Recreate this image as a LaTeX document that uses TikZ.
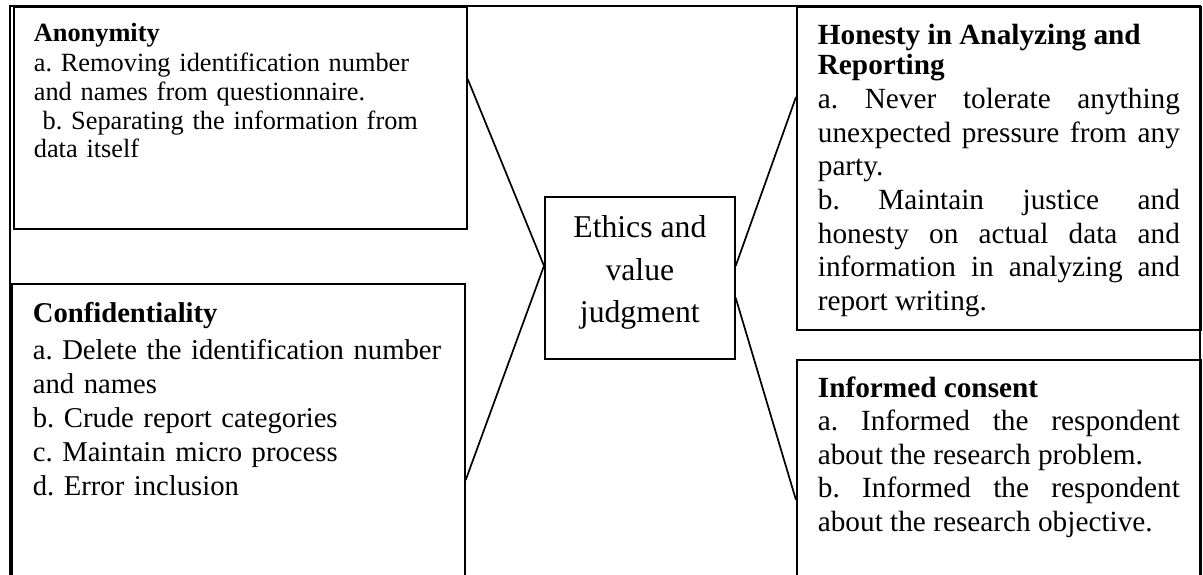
\documentclass[tikz,border=0pt]{standalone}
\usepackage{fontspec}
\setmainfont{Liberation Serif}
\usepackage{tikz}
\usetikzlibrary{positioning}

% one pixel of the layout grid
\newcommand{\pxu}{0.41pt}
\setlength{\parindent}{0pt}
\frenchspacing

\begin{document}
\begin{tikzpicture}[x=0.41pt, y=-0.41pt, line width=0.7pt,
    box/.style={draw, rectangle, anchor=north west, inner sep=0pt},
    txt/.style={anchor=base west, inner sep=0pt, text width=420*\pxu, align=left},
    bodytxt/.style={anchor=base west, inner sep=0pt, text width=362*\pxu, align=justify,
        font=\fontsize{12}{13.8}\selectfont}]

    \useasboundingbox (0,0) rectangle (1203,575);
    \clip (0,0) rectangle (1203,575);

    % Outer frame
    \draw (10,575) -- (10,6) -- (1200,6) -- (1200,575);

    % Boxes
    \node[box, minimum width=453*\pxu, minimum height=222*\pxu] (anon) at (13,6) {};
    \node[box, minimum width=453*\pxu, minimum height=400*\pxu] (conf) at (11,283) {};
    \node[box, minimum width=404*\pxu, minimum height=323*\pxu] (hon) at (796,6) {};
    \node[box, minimum width=404*\pxu, minimum height=300*\pxu] (inf) at (796,359) {};

    % Centre
    \node[box, minimum width=190*\pxu, minimum height=162*\pxu] (ethics) at (544,196) {};
    \node[inner sep=0pt, align=center, font=\fontsize{13}{17.4}\selectfont]
        (ethicstxt) at ([yshift=5*\pxu]ethics.center) {Ethics and\\ value\\ judgment};

    % Left texts
    \node[txt, font=\fontsize{10.8}{11.7}\selectfont] (anontxt) at (33,42)
        {\textbf{Anonymity}\\[0.6pt]
         a. Removing identification number\\
         and names from questionnaire.\\
         \ b. Separating the information from\\
         data itself};
    \node[txt, font=\fontsize{11.75}{13.9}\selectfont] (conftxt) at (32,322)
        {\textbf{Confidentiality}\\[1.6pt]
         a. Delete the identification number\\
         and names\\
         b. Crude report categories\\
         c. Maintain micro process\\
         d. Error inclusion};

    % Right texts
    \node[bodytxt] (hontxt) at (817,45)
        {{\fontsize{12}{12.3}\selectfont\bfseries Honesty in Analyzing and\newline Reporting\par}
         a. Never tolerate anything\linebreak
         unexpected pressure from any\linebreak
         party.\par
         b. Maintain justice and\linebreak
         honesty on actual data and\linebreak
         information in analyzing and\linebreak
         report writing.\par};
    \node[bodytxt] (inftxt) at (817,397)
        {{\fontsize{12}{12.7}\selectfont\bfseries Informed consent\par}
         a. Informed the respondent\linebreak
         about the research problem.\par
         b. Informed the respondent\linebreak
         about the research objective.\par};

    % Links to the centre
    \draw ([yshift=12*\pxu]ethics.west) -- ([yshift=-73*\pxu]anon.north east);
    \draw ([yshift=12*\pxu]ethics.west) -- ([yshift=-197*\pxu]conf.north east);
    \draw ([yshift=12*\pxu]ethics.east) -- ([yshift=-91*\pxu]hon.north west);
    \draw ([yshift=-20*\pxu]ethics.east) -- ([yshift=-141*\pxu]inf.north west);
\end{tikzpicture}
\end{document}
